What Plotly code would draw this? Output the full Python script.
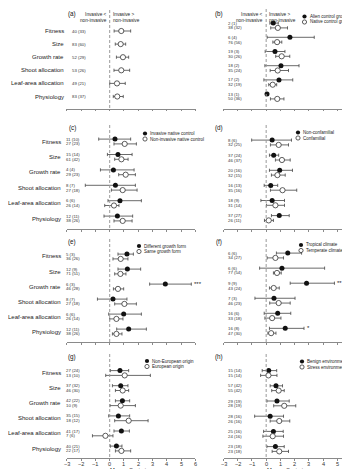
import plotly.graph_objects as go

W, H = 350, 469
FONT = "Arial, Liberation Sans, Helvetica, sans-serif"

categories = ["Fitness", "Size", "Growth rate", "Shoot allocation",
              "Leaf-area allocation", "Physiology"]

# ---- panel (a): single series (open)
a_mean = [0.81, 0.77, 0.93, 0.81, 0.51, 0.53]
a_lo = [0.31, 0.39, 0.47, 0.30, 0.00, 0.25]
a_hi = [1.47, 1.12, 1.33, 1.40, 1.09, 0.95]
a_n = ["40 (33)", "83 (60)", "52 (29)", "53 (26)", "49 (21)", "83 (37)"]

# ---- panel (b)
b_f_mean = [0.50, 1.67, 0.62, 1.04, 0.90, 0.06]
b_f_lo = [0.26, 0.07, -0.07, -0.09, -0.16, 0.06]
b_f_hi = [0.85, 3.38, 1.32, 2.31, 1.87, 0.06]
b_o_mean = [0.82, 0.77, 1.09, 0.81, 0.46, 0.78]
b_o_lo = [0.32, 0.47, 0.67, 0.28, 0.18, 0.30]
b_o_hi = [1.50, 1.10, 1.66, 1.57, 0.74, 1.25]
b_f_n = ["2 (1)", "6 (4)", "19 (3)", "18 (2)", "17 (2)", "13 (1)"]
b_o_n = ["38 (32)", "76 (56)", "30 (26)", "35 (24)", "32 (19)", "50 (36)"]

# ---- panel (c)
c_f_mean = [0.37, 0.58, 0.26, 0.40, 0.72, 0.54]
c_f_lo = [-0.77, -0.16, -0.65, -1.71, -0.12, -0.40]
c_f_hi = [1.47, 1.57, 1.71, 1.80, 2.22, 1.61]
c_o_mean = [1.05, 0.82, 1.12, 0.91, 0.30, 0.91]
c_o_lo = [0.30, 0.35, 0.63, 0.12, -0.35, 0.30]
c_o_hi = [1.87, 1.29, 1.80, 1.92, 0.65, 1.57]
c_f_n = ["11 (10)", "15 (14)", "4 (4)", "8 (7)", "6 (6)", "12 (11)"]
c_o_n = ["27 (23)", "61 (42)", "29 (23)", "27 (18)", "26 (14)", "38 (26)"]

# ---- panel (d)
d_f_mean = [0.42, 0.53, 0.95, 0.32, 0.42, 0.92]
d_f_lo = [-1.02, 0.23, 0.23, -0.14, -0.37, 0.37]
d_f_hi = [1.78, 0.88, 1.85, 0.81, 1.29, 1.62]
d_o_mean = [0.88, 1.11, 0.79, 1.15, 0.65, 0.18]
d_o_lo = [0.30, 0.65, 0.37, 0.30, 0.02, -0.12]
d_o_hi = [1.57, 1.69, 1.34, 2.15, 1.29, 0.51]
d_f_n = ["8 (6)", "37 (24)", "20 (16)", "16 (13)", "18 (9)", "37 (27)"]
d_o_n = ["32 (25)", "46 (37)", "32 (15)", "35 (16)", "31 (14)", "26 (11)"]

# ---- panel (e)
e_f_mean = [1.21, 1.24, 3.90, 0.23, 0.98, 1.33]
e_f_lo = [0.58, 0.58, 2.80, -0.86, -0.07, 0.49]
e_f_hi = [1.66, 2.17, 5.72, 1.21, 2.22, 2.57]
e_o_mean = [0.77, 0.75, 0.58, 1.03, 0.47, 0.47]
e_o_lo = [0.23, 0.35, 0.26, 0.35, 0.00, 0.19]
e_o_hi = [1.28, 1.14, 0.98, 1.87, 0.93, 0.86]
e_f_n = ["5 (3)", "12 (9)", "6 (3)", "8 (7)", "6 (6)", "12 (11)"]
e_o_n = ["36 (26)", "71 (51)", "46 (28)", "27 (18)", "26 (14)", "38 (26)"]
e_sig = ["", "", "***", "", "", ""]

# ---- panel (f)
f_f_mean = [1.52, 1.11, 2.84, 0.55, 0.81, 1.34]
f_f_lo = [0.72, -0.46, 1.69, -0.79, -0.14, 0.23]
f_f_hi = [2.49, 4.11, 4.80, 2.03, 1.73, 2.66]
f_o_mean = [0.65, 0.76, 0.53, 0.88, 0.42, 0.35]
f_o_lo = [0.07, 0.51, 0.23, 0.25, -0.09, 0.12]
f_o_hi = [1.22, 1.06, 0.92, 1.69, 1.04, 0.69]
f_f_n = ["6 (6)", "6 (6)", "9 (9)", "7 (3)", "16 (6)", "16 (8)"]
f_o_n = ["34 (27)", "77 (54)", "43 (24)", "46 (23)", "33 (18)", "47 (30)"]
f_sig = ["", "", "**", "", "", "*"]

# ---- panel (g)
g_f_mean = [0.72, 0.77, 0.89, 0.61, 0.82, 0.47]
g_f_lo = [0.05, 0.19, 0.40, -0.07, 0.30, 0.05]
g_f_hi = [1.33, 1.28, 1.40, 1.40, 1.38, 0.86]
g_o_mean = [1.05, 0.91, 0.77, 1.33, -0.30, 0.82]
g_o_lo = [-0.28, 0.40, 0.02, 0.35, -1.21, 0.40]
g_o_hi = [2.85, 1.33, 1.80, 2.69, 0.23, 1.47]
g_f_n = ["27 (24)", "37 (32)", "42 (22)", "35 (15)", "41 (17)", "40 (21)"]
g_o_n = ["13 (10)", "46 (30)", "10 (9)", "18 (12)", "7 (6)", "22 (17)"]

# ---- panel (h)
h_f_mean = [0.18, 0.69, 0.76, 0.28, 0.51, 0.65]
h_f_lo = [-0.28, 0.28, 0.05, -0.81, -0.18, 0.05]
h_f_hi = [0.74, 1.15, 1.62, 1.22, 1.20, 1.27]
h_o_mean = [0.16, 0.88, 1.27, 0.92, 0.46, 0.92]
h_o_lo = [-0.39, 0.39, 0.53, 0.28, -0.23, 0.42]
h_o_hi = [0.76, 1.27, 2.08, 1.66, 1.22, 1.57]
h_f_n = ["15 (14)", "57 (42)", "29 (19)", "28 (16)", "25 (16)", "23 (18)"]
h_o_n = ["15 (14)", "55 (42)", "28 (19)", "26 (16)", "24 (16)", "23 (18)"]

legend_b = ["Alien control group", "Native control group"]
legend_c = ["Invasive native control", "Non-invasive native control"]
legend_d = ["Non-confamilial", "Confamilial"]
legend_e = ["Different growth form", "Same growth form"]
legend_f = ["Tropical climate", "Temperate climate"]
legend_g = ["Non-European origin", "European origin"]
legend_h = ["Benign environment", "Stress environment"]

x_ticks = [-3, -2, -1, 0, 1, 2, 3, 4, 5, 6]
x_tick_labels = ["\u22123", "\u22122", "\u22121", "0", "1", "2", "3", "4", "5", "6"]
x_title = "Mean effect size"


def X(px):
    return px / W


def Y(py):
    return 1 - py / H


# geometry (pixels)
COLS = {0: (58.9, 187.3), 1: (215.5, 343.5)}
panels = [
    dict(tag="(a)", top=1, p0=23.0, s=13.1, pa=100.5, title_y=6, dash_top=2,
         single=(a_mean, a_lo, a_hi, a_n)),
    dict(tag="(b)", top=1, p0=17.5, s=14.2, pa=100.5, title_y=6, dash_top=1,
         f=(b_f_mean, b_f_lo, b_f_hi, b_f_n), o=(b_o_mean, b_o_lo, b_o_hi, b_o_n),
         leg=legend_b, leg_xy=(296.5, 8.5)),
    dict(tag="(c)", top=112, p0=133.5, s=15.4, pa=221, title_y=120, dash_top=117,
         f=(c_f_mean, c_f_lo, c_f_hi, c_f_n), o=(c_o_mean, c_o_lo, c_o_hi, c_o_n),
         leg=legend_c, leg_xy=(137, 125.5)),
    dict(tag="(d)", top=112, p0=134.5, s=15.1, pa=221, title_y=120, dash_top=117,
         f=(d_f_mean, d_f_lo, d_f_hi, d_f_n), o=(d_o_mean, d_o_lo, d_o_hi, d_o_n),
         leg=legend_d, leg_xy=(290, 124.5)),
    dict(tag="(e)", top=226, p0=248.5, s=15.0, pa=334, title_y=234, dash_top=231,
         f=(e_f_mean, e_f_lo, e_f_hi, e_f_n), o=(e_o_mean, e_o_lo, e_o_hi, e_o_n),
         leg=legend_e, leg_xy=(131, 238), sig=e_sig),
    dict(tag="(f)", top=226, p0=247.5, s=15.05, pa=334, title_y=234, dash_top=231,
         f=(f_f_mean, f_f_lo, f_f_hi, f_f_n), o=(f_o_mean, f_o_lo, f_o_hi, f_o_n),
         leg=legend_f, leg_xy=(293, 237), sig=f_sig),
    dict(tag="(g)", top=338, p0=365.0, s=15.1, pa=450.0, title_y=349, dash_top=346,
         f=(g_f_mean, g_f_lo, g_f_hi, g_f_n), o=(g_o_mean, g_o_lo, g_o_hi, g_o_n),
         leg=legend_g, leg_xy=(139, 353)),
    dict(tag="(h)", top=338, p0=365.0, s=15.2, pa=450.0, title_y=349, dash_top=346,
         f=(h_f_mean, h_f_lo, h_f_hi, h_f_n), o=(h_o_mean, h_o_lo, h_o_hi, h_o_n),
         leg=legend_h, leg_xy=(294, 353.5)),
]

fig = go.Figure()
layout = dict(
    width=W, height=H, margin=dict(l=0, r=0, t=0, b=0),
    paper_bgcolor="white", plot_bgcolor="rgba(0,0,0,0)",
    showlegend=False, font=dict(family=FONT, color="#222", size=6),
)
annotations = []
shapes = []

ERR = dict(type="data", symmetric=False, thickness=0.8, width=1.6, color="#444")


def add_series(k, ys, mean, lo, hi, filled):
    err = dict(ERR)
    err["array"] = [h - m for h, m in zip(hi, mean)]
    err["arrayminus"] = [m - l for m, l in zip(mean, lo)]
    if filled:
        marker = dict(size=5, color="#111", line=dict(width=0))
    else:
        marker = dict(size=5.2, color="white", line=dict(width=0.8, color="#333"))
    fig.add_trace(go.Scatter(x=mean, y=ys, mode="markers", marker=marker,
                             error_x=err, cliponaxis=False,
                             xaxis=f"x{k}", yaxis=f"y{k}"))


for i, p in enumerate(panels):
    k = i + 1
    col = i % 2
    x0px, x1px = COLS[col]
    s, p0 = p["s"], p["p0"]
    ymin = (p["top"] - p0) / s
    ymax = (p["pa"] - p0) / s
    bottom = i >= 6
    xa = dict(domain=[X(x0px), X(x1px)], range=[-3, 6], anchor=f"y{k}",
              showline=True, linecolor="#8a8a8a", linewidth=0.8,
              ticks="outside", ticklen=2, tickwidth=0.8, tickcolor="#8a8a8a",
              tickmode="array", tickvals=x_ticks, automargin=False,
              showgrid=False, zeroline=False, showticklabels=False)
    ya = dict(domain=[Y(p["pa"]), Y(p["top"])], range=[ymax, ymin],
              anchor=f"x{k}", visible=False, showgrid=False, zeroline=False)
    layout["xaxis" if k == 1 else f"xaxis{k}"] = xa
    layout["yaxis" if k == 1 else f"yaxis{k}"] = ya

    if bottom:
        for tv, tl in zip(x_ticks, x_tick_labels):
            annotations.append(dict(text=tl, x=tv, y=Y(p["pa"] + 5.5), xref=f"x{k}",
                                    yref="paper", showarrow=False, xanchor="center",
                                    yanchor="middle", borderpad=0,
                                    font=dict(size=5.6, color="#333")))
        annotations.append(dict(text=x_title, x=1.5, y=Y(p["pa"] + 11.5), xref=f"x{k}",
                                yref="paper", showarrow=False, xanchor="center",
                                yanchor="middle", borderpad=0,
                                font=dict(size=5.8, color="#222")))

    # dashed zero line
    shapes.append(dict(type="line", xref=f"x{k}", yref=f"y{k}", x0=0, x1=0,
                       y0=(p["dash_top"] - p0) / s, y1=ymax,
                       line=dict(color="#9a9a9a", width=1, dash="3px,2px")))

    # panel tag
    tx = 64 if col == 0 else 211
    annotations.append(dict(text=p["tag"], x=X(tx), y=Y(p["title_y"]), xref="paper",
                            yref="paper", showarrow=False, xanchor="center",
                            yanchor="middle", font=dict(size=6.3, color="#111")))

    rows = list(range(len(categories)))
    n_x = X(62.0) if i == 0 else (X(55.8) if col == 0 else X(218))
    if col == 0:
        cat_x = X(58.3) if i == 0 else X(55.0)
        for r, c in zip(rows, categories):
            annotations.append(dict(text=c, x=cat_x, y=r, xref="paper", yref=f"y{k}",
                                    showarrow=False, xanchor="right", yanchor="middle",
                                    font=dict(size=6.0, color="#222")))

    if "single" in p:
        mean, lo, hi, nn = p["single"]
        add_series(k, rows, mean, lo, hi, filled=False)
        for r, t in zip(rows, nn):
            annotations.append(dict(text=t, x=n_x, y=r, xref="paper", yref=f"y{k}",
                                    showarrow=False, xanchor="left", yanchor="middle",
                                    font=dict(size=4.3, color="#333")))
    else:
        d = 2.4 / s
        yf = [r - d for r in rows]
        yo = [r + d for r in rows]
        fm, fl, fh, fn = p["f"]
        om, ol, oh, on = p["o"]
        add_series(k, yf, fm, fl, fh, filled=True)
        add_series(k, yo, om, ol, oh, filled=False)
        for yy, t in list(zip(yf, fn)) + list(zip(yo, on)):
            annotations.append(dict(text=t, x=n_x, y=yy, xref="paper", yref=f"y{k}",
                                    showarrow=False, xanchor="left", yanchor="middle",
                                    font=dict(size=4.3, color="#333")))
        if "sig" in p:
            for yy, hv, sg in zip(yf, fh, p["sig"]):
                if sg:
                    annotations.append(dict(text=sg, x=hv, y=yy, xref=f"x{k}",
                                            yref=f"y{k}", showarrow=False,
                                            xanchor="left", yanchor="middle", xshift=1,
                                            font=dict(size=6, color="#222")))
        # legend
        lx, ly = p["leg_xy"]
        rr = 2.1
        for j, lab in enumerate(p["leg"]):
            cy = ly + j * 5.5
            if j == 0:
                shapes.append(dict(type="circle", xref="paper", yref="paper",
                                   x0=X(lx - rr), x1=X(lx + rr), y0=Y(cy + rr), y1=Y(cy - rr),
                                   fillcolor="#111", line=dict(width=0)))
            else:
                shapes.append(dict(type="circle", xref="paper", yref="paper",
                                   x0=X(lx - rr), x1=X(lx + rr), y0=Y(cy + rr), y1=Y(cy - rr),
                                   fillcolor="white", line=dict(width=0.8, color="#333")))
            annotations.append(dict(text=lab, x=X(lx + 3.4), y=Y(cy), xref="paper",
                                    yref="paper", showarrow=False, xanchor="left",
                                    yanchor="middle", font=dict(size=4.5, color="#222")))

# headers for (a) and (b)
for zero_px in (101.7, 258.0):
    annotations.append(dict(text="Invasive &lt;<br>non-invasive", x=X(zero_px - 1.2),
                            y=Y(1.5), xref="paper", yref="paper", showarrow=False,
                            xanchor="right", yanchor="top", align="right",
                            font=dict(size=4.7, color="#222")))
    annotations.append(dict(text="Invasive &gt;<br>non-invasive", x=X(zero_px + 1.2),
                            y=Y(1.5), xref="paper", yref="paper", showarrow=False,
                            xanchor="left", yanchor="top", align="left",
                            font=dict(size=4.7, color="#222")))

layout["annotations"] = annotations
layout["shapes"] = shapes
fig.update_layout(**layout)
fig.write_html("out.html")
